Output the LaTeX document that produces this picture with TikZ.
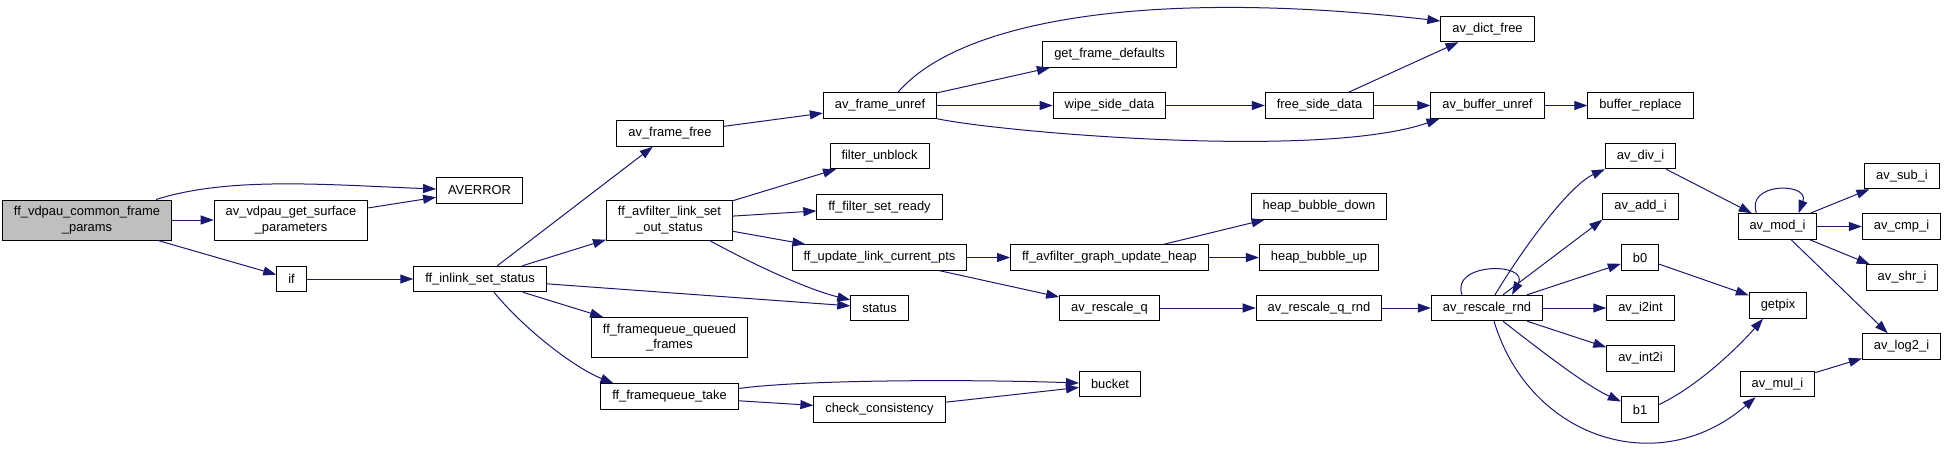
\documentclass[tikz,border=0pt]{standalone}
\usepackage{fontspec}
\setmainfont{Liberation Sans}
\usetikzlibrary{arrows.meta}
\definecolor{edgeblue}{HTML}{191970}
\definecolor{rootgray}{HTML}{BFBFBF}

\begin{document}
\begin{tikzpicture}[x=1pt,y=-1pt,
  fn/.style={draw=black,line width=1pt,fill=white,inner xsep=11.5pt,inner ysep=0pt,
    minimum height=25.5pt,align=center,font=\fontsize{12.9}{15.5}\selectfont},
  fn2/.style={fn,minimum height=40pt},
  call/.style={draw=edgeblue,line width=1pt,-{Triangle[length=13pt,width=9pt]}}]

% Canvas
\fill[white] (0,0) rectangle (1945,453);
\useasboundingbox (0,0) rectangle (1945,453);

% Caller and first calls
\node[fn2,fill=rootgray] (root) at (87,220) {ff\_vdpau\_common\_frame\\\_params};
\node[fn2] (surf) at (291,220) {av\_vdpau\_get\_surface\\\_parameters};
\node[fn] (averror) at (479.5,190.5) {AVERROR};
\node[fn] (iff) at (291.5,279) {if};
\node[fn] (inlink) at (480,279) {ff\_inlink\_set\_status};

% Fourth column
\node[fn] (framefree) at (670,133.5) {av\_frame\_free};
\node[fn2] (outstatus) at (669.5,220) {ff\_avfilter\_link\_set\\\_out\_status};
\node[fn2] (queued) at (669.5,337.5) {ff\_framequeue\_queued\\\_frames};
\node[fn] (take) at (669.5,396.5) {ff\_framequeue\_take};

% Fifth column
\node[fn] (unref) at (880,105.5) {av\_frame\_unref};
\node[fn] (unblock) at (879.5,156) {filter\_unblock};
\node[fn] (setready) at (879.5,207) {ff\_filter\_set\_ready};
\node[fn] (updpts) at (879.5,257.5) {ff\_update\_link\_current\_pts};
\node[fn] (status) at (879.5,308) {status};
\node[fn] (check) at (879.5,409.5) {check\_consistency};

% Sixth column
\node[fn] (getdef) at (1109.5,54.5) {get\_frame\_defaults};
\node[fn] (wipe) at (1109.5,105.5) {wipe\_side\_data};
\node[fn] (heap) at (1109.5,257.5) {ff\_avfilter\_graph\_update\_heap};
\node[fn] (rescq) at (1109.5,308) {av\_rescale\_q};
\node[fn] (bucket) at (1110,384) {bucket};

% Seventh column
\node[fn] (freeside) at (1319.5,105.5) {free\_side\_data};
\node[fn] (bdown) at (1319,206.5) {heap\_bubble\_down};
\node[fn] (bup) at (1319,257.5) {heap\_bubble\_up};
\node[fn] (rescqrnd) at (1319,308) {av\_rescale\_q\_rnd};

% Eighth column
\node[fn] (dict) at (1487.5,29) {av\_dict\_free};
\node[fn] (bufunref) at (1487.5,105.5) {av\_buffer\_unref};
\node[fn] (rescrnd) at (1487,308) {av\_rescale\_rnd};

% Ninth column
\node[fn] (bufrep) at (1640.5,105.5) {buffer\_replace};
\node[fn] (divi) at (1640.5,156) {av\_div\_i};
\node[fn] (addi) at (1640.5,206.5) {av\_add\_i};
\node[fn] (b0) at (1640,257.5) {b0};
\node[fn] (i2int) at (1640.5,308) {av\_i2int};
\node[fn] (int2i) at (1640.5,358.5) {av\_int2i};
\node[fn] (b1) at (1640,409.5) {b1};

% Last columns
\node[fn] (modi) at (1777.5,226.5) {av\_mod\_i};
\node[fn] (getpix) at (1778,305.5) {getpix};
\node[fn] (muli) at (1777.5,384) {av\_mul\_i};
\node[fn] (subi) at (1902,176) {av\_sub\_i};
\node[fn] (cmpi) at (1901.5,226.5) {av\_cmp\_i};
\node[fn] (shri) at (1902,277.5) {av\_shr\_i};
\node[fn] (log2i) at (1901.5,346.5) {av\_log2\_i};

% Calls from the caller
\draw[call] ([xshift=-16pt]root.north east) .. controls (230,176) and (330,185) .. ([yshift=1.5pt]averror.west);
\draw[call] (root) -- (surf);
\draw[call] (root) -- (iff);
\draw[call] (surf) -- (averror);
\draw[call] (iff) -- (inlink);

% ff_inlink_set_status
\draw[call] (inlink) -- (framefree);
\draw[call] (inlink) -- (outstatus);
\draw[call] (inlink) -- (status);
\draw[call] (inlink) -- (queued);
\draw[call] ([xshift=14pt]inlink.south) .. controls (525,330) and (575,368) .. ([xshift=-56pt]take.north);

% Frame freeing
\draw[call] (framefree) -- (unref);
\draw[call] ([xshift=18pt]unref.north) .. controls (960,20) and (1150,-12) .. ([yshift=8pt]dict.west);
\draw[call] (unref) -- (getdef);
\draw[call] (unref) -- (wipe);
\draw[call] (unref.south east) .. controls (1000,132) and (1320,160) .. ([xshift=-48pt]bufunref.south);
\draw[call] (wipe) -- (freeside);
\draw[call] (freeside) -- (dict);
\draw[call] (freeside) -- (bufunref);
\draw[call] (bufunref) -- (bufrep);

% Link status
\draw[call] (outstatus) -- (unblock);
\draw[call] (outstatus) -- (setready);
\draw[call] (outstatus) -- (updpts);
\draw[call] ([xshift=40pt]outstatus.south) .. controls (760,268) and (810,290) .. ([yshift=8pt]status.west);
\draw[call] (updpts) -- (heap);
\draw[call] (updpts) -- (rescq);
\draw[call] (heap) -- (bdown);
\draw[call] (heap) -- (bup);

% Rescaling
\draw[call] (rescq) -- (rescqrnd);
\draw[call] (rescqrnd) -- (rescrnd);
\draw[call] ([xshift=-25pt]rescrnd.north) .. controls (1450,262) and (1530,262) .. ([xshift=25pt]rescrnd.north);
\draw[call] ([xshift=8pt]rescrnd.north) .. controls (1525,245) and (1570,185) .. (divi.south west);
\draw[call] ([xshift=16pt]rescrnd.north) -- (addi.south west);
\draw[call] (rescrnd) -- (b0);
\draw[call] (rescrnd) -- (i2int);
\draw[call] (rescrnd) -- (int2i);
\draw[call] ([xshift=16pt]rescrnd.south) .. controls (1540,350) and (1585,385) .. ([yshift=8pt]b1.west);
\draw[call] ([xshift=7pt]rescrnd.south) .. controls (1530,440) and (1660,480) .. ([xshift=-22pt]muli.south);

% Integer helpers
\draw[call] (divi) -- (modi);
\draw[call] ([xshift=-21pt]modi.north) .. controls (1745,182) and (1810,182) .. ([xshift=21pt]modi.north);
\draw[call] (modi) -- (subi);
\draw[call] (modi) -- (cmpi);
\draw[call] (modi) -- (shri);
\draw[call] (modi) -- (log2i);
\draw[call] (b0) -- (getpix);
\draw[call] ([yshift=5pt]b1.east) .. controls (1700,385) and (1740,345) .. ([xshift=-15pt]getpix.south);
\draw[call] (muli) -- (log2i);

% Frame queue
\draw[call] ([yshift=8pt]take.east) .. controls (800,380) and (960,379) .. ([yshift=1pt]bucket.west);
\draw[call] (take) -- (check);
\draw[call] (check) -- (bucket);

\end{tikzpicture}
\end{document}
